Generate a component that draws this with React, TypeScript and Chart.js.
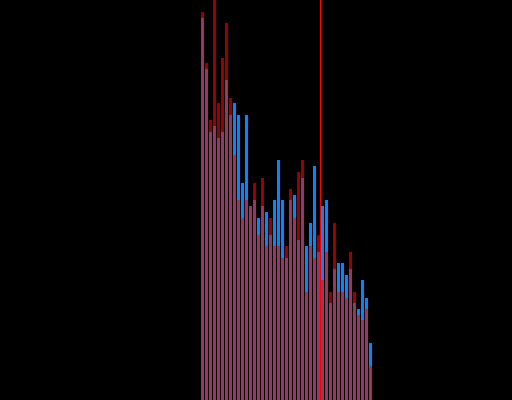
import React, { useEffect, useRef } from "react";
import { Chart, registerables } from "chart.js";

Chart.register(...registerables);

const categories: string[] = Array.from({ length: 43 }, (_, i) => String(i + 1));

const redSeries: number[] = [
  388, 337, 280, 405, 297, 342, 377, 302, 245, 200, 182, 200, 194, 217, 165,
  222, 154, 182, 154, 154, 142, 154, 211, 182, 228, 240, 108, 154, 142, 165,
  120, 148, 108, 177, 108, 108, 102, 148, 108, 85, 80, 91, 34,
];

const blueSeries: number[] = [
  382, 331, 268, 274, 262, 268, 320, 285, 297, 285, 217, 285, 194, 200, 182,
  194, 188, 165, 200, 240, 200, 142, 200, 205, 160, 222, 154, 177, 234, 148,
  194, 200, 97, 131, 137, 137, 125, 131, 97, 91, 120, 102, 57,
];

// marker sits between category 30 and 31 (0-based 29 and 30)
const markerBetween: [number, number] = [29, 30];

const Y_MAX = 400;

const markerPlugin = {
  id: "markerLine",
  afterDatasetsDraw(chart: any) {
    const x = chart.scales.x;
    const area = chart.chartArea;
    const px =
      (x.getPixelForValue(markerBetween[0]) + x.getPixelForValue(markerBetween[1])) / 2;
    const ctx = chart.ctx;
    ctx.save();
    ctx.strokeStyle = "rgb(255,0,0)";
    ctx.lineWidth = 1;
    ctx.beginPath();
    ctx.moveTo(px, area.top);
    ctx.lineTo(px, area.bottom);
    ctx.stroke();
    ctx.restore();
  },
};

export default function App() {
  const ref = useRef<HTMLCanvasElement | null>(null);

  useEffect(() => {
    if (!ref.current) return;
    const chart = new Chart(ref.current, {
      type: "bar",
      data: {
        labels: categories,
        datasets: [
          {
            label: "red",
            data: redSeries,
            backgroundColor: "rgba(255,0,0,0.6)",
            borderWidth: 0,
            grouped: false,
            barPercentage: 0.75,
            categoryPercentage: 1,
          } as any,
          {
            label: "blue",
            data: blueSeries,
            backgroundColor: "rgb(0,136,255)",
            borderWidth: 0,
            grouped: false,
            barPercentage: 0.75,
            categoryPercentage: 1,
          } as any,
        ],
      },
      options: {
        responsive: false,
        animation: false,
        devicePixelRatio: 1,
        layout: { padding: { left: 200.5, right: 139.5, top: 0, bottom: 0 } },
        plugins: { legend: { display: false }, tooltip: { enabled: false } },
        scales: {
          x: { display: false },
          y: { display: false, min: 0, max: Y_MAX },
        },
      },
      plugins: [markerPlugin],
    });
    return () => chart.destroy();
  }, []);

  return (
    <div
      style={{
        position: "fixed",
        left: 0,
        top: 0,
        width: 512,
        height: 400,
        background: "#000",
      }}
    >
      <canvas ref={ref} width={512} height={400} style={{ display: "block" }} />
    </div>
  );
}
